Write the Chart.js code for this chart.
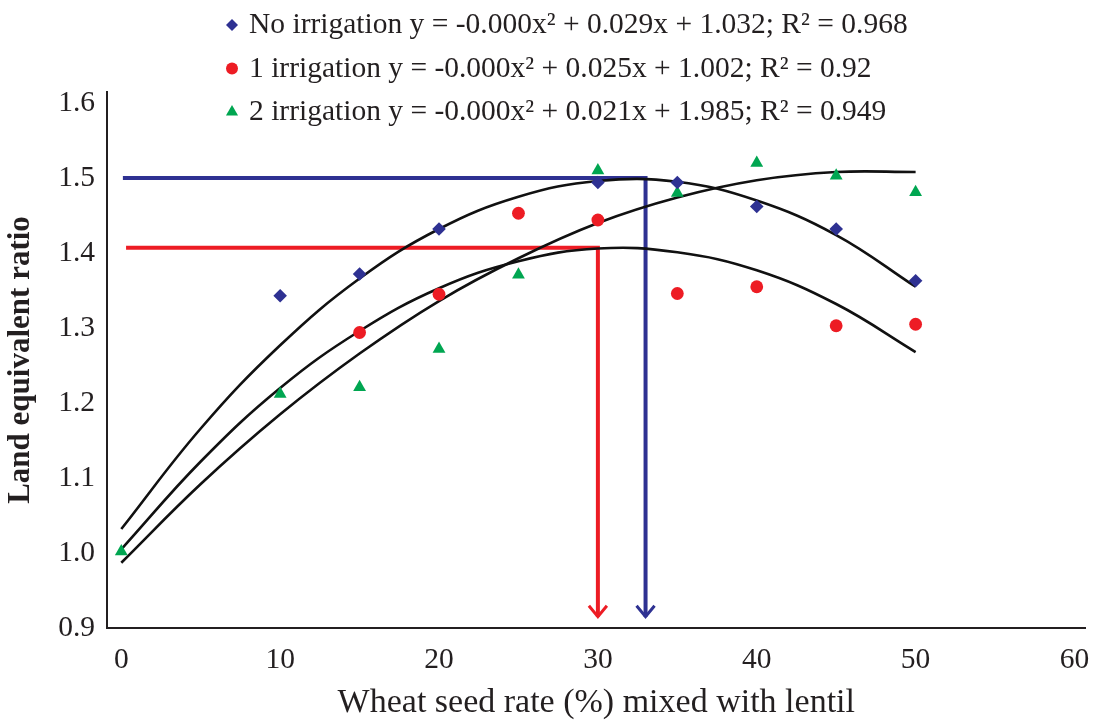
<!DOCTYPE html>
<html><head><meta charset="utf-8">
<script src="https://cdn.jsdelivr.net/npm/chart.js@4.4.1/dist/chart.umd.min.js"></script>
<style>html,body{margin:0;padding:0;background:#fff}#wrap{width:1093px;height:720px;position:relative}</style>
</head><body><div id="wrap"><canvas id="c"></canvas></div>
<script>
// ---- data ----
const legendLabels = [
  'No irrigation y = -0.000x\u00B2 + 0.029x + 1.032; R\u00B2 = 0.968',
  '1 irrigation y = -0.000x\u00B2 + 0.025x + 1.002; R\u00B2 = 0.92',
  '2 irrigation y = -0.000x\u00B2 + 0.021x + 1.985; R\u00B2 = 0.949'
];
const xNoIrr  = [10, 15, 20, 30, 35, 40, 45, 50];
const yNoIrr  = [1.343, 1.372, 1.432, 1.494, 1.494, 1.462, 1.432, 1.363];
const xOneIrr = [15, 20, 25, 30, 35, 40, 45, 50];
const yOneIrr = [1.294, 1.345, 1.453, 1.444, 1.346, 1.355, 1.303, 1.305];
const xTwoIrr = [0, 10, 15, 20, 25, 30, 35, 40, 45, 50];
const yTwoIrr = [1.002, 1.212, 1.221, 1.272, 1.371, 1.510, 1.480, 1.520, 1.503, 1.481];

// trend curves at every 5 %
const xTrend   = [0, 5, 10, 15, 20, 25, 30, 35, 40, 45, 50];
const trendNo  = [1.032, 1.166, 1.277, 1.366, 1.432, 1.475, 1.496, 1.495, 1.470, 1.424, 1.355];
const trendOne = [1.005, 1.122, 1.220, 1.296, 1.353, 1.389, 1.406, 1.401, 1.377, 1.332, 1.268];
const trendTwo = [0.987, 1.092, 1.185, 1.266, 1.336, 1.393, 1.440, 1.474, 1.497, 1.508, 1.508];

// optimum guide lines (x, y) : horizontal then down to the axis
const guideNoX  = [0.1, 33, 33];
const guideNoY  = [1.5, 1.5, 0.915];
const guideOneX = [0.3, 30, 30];
const guideOneY = [1.407, 1.407, 0.915];

const xTicks = [0, 10, 20, 30, 40, 50, 60];
const yTicks = [0.9, 1.0, 1.1, 1.2, 1.3, 1.4, 1.5, 1.6];

const BLUE = '#2e3192', RED = '#ed1c24', GREEN = '#00a651', INK = '#231f20';
const SERIF = '"Liberation Serif", "Times New Roman", serif';

const pts = (xs, ys) => xs.map((x, i) => ({x: x, y: ys[i]}));

function drawMarker(ctx, style, x, y, r, color) {
  ctx.fillStyle = color;
  ctx.beginPath();
  if (style === 'rectRot') {
    ctx.moveTo(x, y - r); ctx.lineTo(x + r, y); ctx.lineTo(x, y + r); ctx.lineTo(x - r, y);
  } else if (style === 'triangle') {
    ctx.moveTo(x, y - r); ctx.lineTo(x + r * 0.866, y + r * 0.5); ctx.lineTo(x - r * 0.866, y + r * 0.5);
  } else {
    ctx.arc(x, y, r, 0, Math.PI * 2);
  }
  ctx.closePath();
  ctx.fill();
}

const legendPlugin = {
  id: 'stackLegend',
  afterDraw(chart) {
    const ctx = chart.ctx;
    ctx.save();
    ctx.font = '29.5px ' + SERIF;
    ctx.textBaseline = 'alphabetic';
    ctx.textAlign = 'left';
    for (let i = 0; i < 3; i++) {
      const ds = chart.data.datasets[i];
      const base = 33 + i * 43.5;
      drawMarker(ctx, ds.pointStyle, 232, base - 8, ds.pointStyle === 'triangle' ? 7 : 6, ds.backgroundColor);
      ctx.fillStyle = INK;
      ctx.fillText(ds.label, 249, base);
    }
    ctx.restore();
  }
};

const arrowPlugin = {
  id: 'arrowHeads',
  afterDatasetsDraw(chart) {
    const ctx = chart.ctx;
    chart.data.datasets.forEach((ds, i) => {
      if (!ds.arrow) return;
      const meta = chart.getDatasetMeta(i);
      const last = meta.data[meta.data.length - 1];
      ctx.save();
      ctx.strokeStyle = ds.borderColor;
      ctx.lineWidth = 3;
      ctx.lineJoin = 'miter';
      ctx.beginPath();
      ctx.moveTo(last.x - 9, last.y - 11);
      ctx.lineTo(last.x, last.y);
      ctx.lineTo(last.x + 9, last.y - 11);
      ctx.stroke();
      ctx.restore();
    });
  }
};

Chart.defaults.font.family = SERIF;
Chart.defaults.color = INK;

new Chart(document.getElementById('c'), {
  type: 'scatter',
  data: {
    datasets: [
      {label: legendLabels[0], data: pts(xNoIrr, yNoIrr), pointStyle: 'rectRot', pointRadius: 6.8,
       backgroundColor: BLUE, borderColor: BLUE, borderWidth: 0},
      {label: legendLabels[1], data: pts(xOneIrr, yOneIrr), pointStyle: 'circle', pointRadius: 6.4,
       backgroundColor: RED, borderColor: RED, borderWidth: 0},
      {label: legendLabels[2], data: pts(xTwoIrr, yTwoIrr), pointStyle: 'triangle', pointRadius: 7.4,
       backgroundColor: GREEN, borderColor: GREEN, borderWidth: 0},
      {label: 'trend no', data: pts(xTrend, trendNo), showLine: true, pointRadius: 0, borderColor: '#111', borderWidth: 2.6, tension: 0.4},
      {label: 'trend one', data: pts(xTrend, trendOne), showLine: true, pointRadius: 0, borderColor: '#111', borderWidth: 2.6, tension: 0.4},
      {label: 'trend two', data: pts(xTrend, trendTwo), showLine: true, pointRadius: 0, borderColor: '#111', borderWidth: 2.6, tension: 0.4},
      {label: 'guide no', data: pts(guideNoX, guideNoY), showLine: true, pointRadius: 0, borderColor: BLUE, borderWidth: 4, tension: 0, arrow: true, borderJoinStyle: 'miter'},
      {label: 'guide one', data: pts(guideOneX, guideOneY), showLine: true, pointRadius: 0, borderColor: RED, borderWidth: 4, tension: 0, arrow: true, borderJoinStyle: 'miter'}
    ]
  },
  options: {
    responsive: true,
    maintainAspectRatio: false,
    animation: false,
    layout: {padding: {top: 92, right: 7, bottom: 0, left: 0}},
    plugins: {legend: {display: false}, tooltip: {enabled: false}},
    scales: {
      x: {
        type: 'linear', min: -0.9, max: 60.7,
        grid: {display: false, drawTicks: false},
        border: {display: true, color: INK, width: 2},
        afterBuildTicks: s => { s.ticks = xTicks.map(v => ({value: v})); },
        ticks: {padding: 15, font: {size: 29.5}, color: INK, callback: v => String(v), maxRotation: 0},
        title: {display: true, text: 'Wheat seed rate (%) mixed with lentil', font: {size: 34}, color: INK, padding: {top: 0, bottom: -3}},
        afterFit: s => { s.height = 92; s.paddingLeft = 0; s.paddingRight = 0; }
      },
      y: {
        type: 'linear', min: 0.9, max: 1.6147,
        grid: {display: false, drawTicks: false},
        border: {display: true, color: INK, width: 2},
        afterBuildTicks: s => { s.ticks = yTicks.map(v => ({value: v})); },
        ticks: {padding: 12, font: {size: 29.5}, color: INK, callback: v => Number(v).toFixed(1)},
        title: {display: true, text: 'Land equivalent ratio', font: {size: 31, weight: 'bold'}, color: INK, padding: {top: 2, bottom: 0}},
        afterFit: s => { s.width = 107; s.paddingTop = 0; s.paddingBottom = 0; }
      }
    }
  },
  plugins: [legendPlugin, arrowPlugin]
});
</script></body></html>
